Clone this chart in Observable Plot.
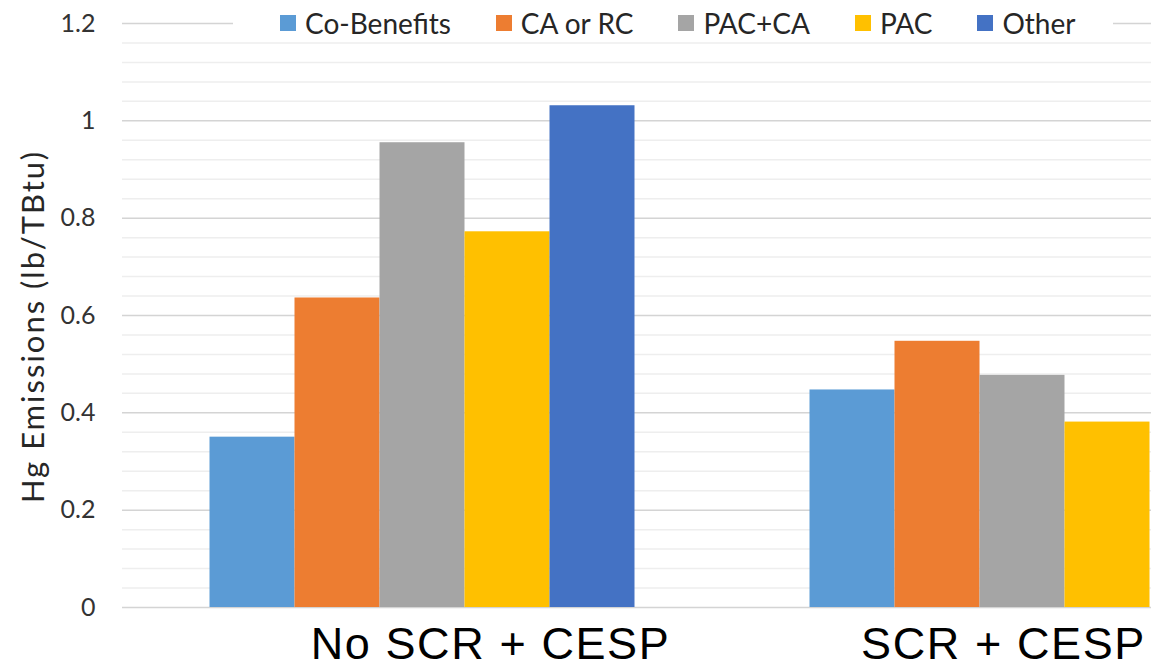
<!DOCTYPE html>
<html>
<head>
<meta charset="utf-8">
<script src="https://cdn.jsdelivr.net/npm/d3@7"></script>
<script src="https://cdn.jsdelivr.net/npm/@observablehq/plot@0.6"></script>
<style>
  html, body { margin: 0; padding: 0; background: #fff; overflow: hidden; }
  #chart { position: relative; width: 1151px; height: 669px; font-family: Lato, "Open Sans", sans-serif; }
  #legend {
    position: absolute; z-index: 1; left: 233px; top: 8px; width: 880px; height: 30px;
    background: #fff; display: flex; align-items: center; box-sizing: border-box;
    padding-left: 47px; gap: 45px;
  }
  .item { display: flex; align-items: center; font-size: 28px; color: #262626; white-space: nowrap; }
  .swatch { width: 16px; height: 16px; margin-right: 9px; }
  #chart svg g[aria-label="y-axis tick label"] { font-size: 25px; fill: #333; }
</style>
</head>
<body>
<div id="chart"><div id="legend"></div></div>
<script>
// Control configurations and the two boiler groups
const groups = ["No SCR + CESP", "SCR + CESP"];
const series = ["Co-Benefits", "CA or RC", "PAC+CA", "PAC", "Other"];
const colors = ["#5B9BD5", "#ED7D31", "#A5A5A5", "#FFC000", "#4472C4"];

// Mean Hg emission rates (lb/TBtu) per series, in series order
const noScrValues = [0.35, 0.636, 0.955, 0.772, 1.031];
const scrValues = [0.447, 0.547, 0.477, 0.381, null];

const yTicks = [0, 0.2, 0.4, 0.6, 0.8, 1, 1.2];
const yLabel = "Hg Emissions (lb/TBtu)";

const rows = [];
series.forEach((s, i) => {
  if (noScrValues[i] != null) rows.push({group: groups[0], series: s, value: noScrValues[i]});
  if (scrValues[i] != null) rows.push({group: groups[1], series: s, value: scrValues[i]});
});

// faint minor grid every 0.04 between the labelled lines
const minorTicks = d3.range(0, 1.2001, 0.04).filter(v => Math.abs(v * 5 - Math.round(v * 5)) > 1e-6);

const groupLabel = (g, dx) => Plot.text([g], {
  fx: d => d, text: d => d, frameAnchor: "bottom", lineAnchor: "middle", textAnchor: "middle",
  dy: 37.5, dx, fontSize: 45, fontFamily: "'Liberation Sans', Arial, sans-serif", fill: "#000"
});

const chart = Plot.plot({
  width: 1151,
  height: 669,
  marginLeft: 121.5,
  marginRight: -170.5,
  marginTop: 23,
  marginBottom: 62,
  style: {fontFamily: "Lato, 'Open Sans', sans-serif", fontSize: "25px", color: "#333", background: "#fff"},
  fx: {domain: groups, padding: 0, axis: null},
  x: {domain: series, paddingInner: 0, paddingOuter: 1, axis: null},
  y: {domain: [0, 1.2], ticks: yTicks, tickSize: 0, tickPadding: 27, tickFormat: d => String(d), label: null},
  color: {domain: series, range: colors},
  marks: [
    Plot.ruleY(minorTicks, {stroke: "#eeeeee", strokeWidth: 1.5}),
    Plot.ruleY(yTicks, {stroke: "#d4d4d4", strokeWidth: 1.5}),
    Plot.barY(rows, {fx: "group", x: "series", y: "value", fill: "series"}),
    Plot.text([{group: groups[0], label: yLabel}], {
      fx: "group", text: "label", frameAnchor: "left", textAnchor: "middle", lineAnchor: "middle",
      rotate: -90, dx: -88.5, dy: 11, fontSize: 31, fill: "#262626"
    }),
    groupLabel(groups[0], 68),
    groupLabel(groups[1], -19)
  ]
});

// a touch of tracking on the axis title and the group names
chart.querySelectorAll("text").forEach(t => {
  if (t.textContent === yLabel) t.style.letterSpacing = "2px";
  if (groups.includes(t.textContent)) t.style.letterSpacing = "1.6px";
});

const root = document.getElementById("chart");
root.insertBefore(chart, root.firstChild);

// Legend row laid over the top gridline
const legend = document.getElementById("legend");
series.forEach((s, i) => {
  const item = document.createElement("div");
  item.className = "item";
  const sw = document.createElement("span");
  sw.className = "swatch";
  sw.style.background = colors[i];
  const t = document.createElement("span");
  t.textContent = s;
  item.appendChild(sw);
  item.appendChild(t);
  legend.appendChild(item);
});
</script>
</body>
</html>
